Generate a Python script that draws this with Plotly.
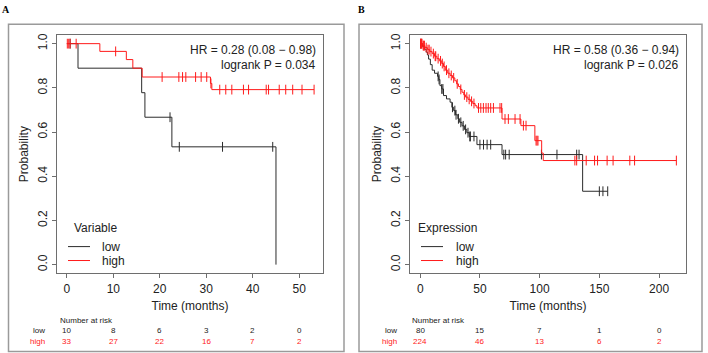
import plotly.graph_objects as go

W, H = 708, 353

# ---------------- Panel A data ----------------
a_low_t = [0, 2.4, 16.1, 16.8, 22.6, 45.0]
a_low_s = [1.0, 0.889, 0.778, 0.667, 0.533, 0.0]
a_low_cens = [0.7, 22.2, 24.2, 33.5, 44.3]

a_high_t = [0, 7.1, 12.8, 14.2, 16.2, 30.9, 31.2]
a_high_s = [1.0, 0.965, 0.928, 0.889, 0.849, 0.820, 0.792]
a_high_cens = [0.1, 0.4, 0.7, 2.0, 10.5, 20.5, 24.1, 24.9, 25.6, 27.7, 28.9, 30.1,
               31.0, 32.9, 34.2, 35.5, 38.0, 39.1, 42.9, 43.4, 45.7, 47.1, 48.6,
               50.6, 53.2]

a_risk_times = [0, 10, 20, 30, 40, 50]
a_risk_low = [10, 8, 6, 3, 2, 0]
a_risk_high = [33, 27, 22, 16, 7, 2]

# ---------------- Panel B data ----------------
b_low_t = [0, 2, 3.5, 5, 6, 7, 8.5, 10, 12, 14.5, 15.5, 16.5, 18, 19.5, 22, 25,
           26.5, 28, 29.5, 31.5, 33, 35, 37, 39, 41, 47.5, 68.5, 136]
b_low_s = [1.0, 0.987, 0.975, 0.962, 0.949, 0.930, 0.905, 0.880, 0.866, 0.852,
           0.838, 0.810, 0.795, 0.765, 0.750, 0.735, 0.712, 0.697, 0.678, 0.660,
           0.644, 0.628, 0.612, 0.597, 0.580, 0.543, 0.498, 0.332]
b_low_cens = [0.5, 15, 15.8, 18, 19, 27, 29, 30, 32, 34, 36, 38, 40, 41.5, 42,
              45, 50, 53, 56, 59, 70, 71.5, 74.5, 101.5, 114.5, 131, 133, 150,
              153, 157]

b_high_t = [0, 2, 4, 6, 8, 10, 12, 14, 16, 18, 19.5, 21, 23, 25, 27, 29, 30.5,
            32, 33.5, 35, 36.5, 38, 40, 42, 44, 46, 47.5, 68.5, 84.3, 96, 101.7,
            103]
b_high_s = [1.0, 0.991, 0.982, 0.973, 0.964, 0.955, 0.943, 0.932, 0.922, 0.910,
            0.897, 0.880, 0.866, 0.856, 0.845, 0.832, 0.818, 0.806, 0.793, 0.780,
            0.768, 0.758, 0.748, 0.739, 0.729, 0.719, 0.709, 0.659, 0.629, 0.561,
            0.505, 0.471]
b_high_cens = [0.3, 0.6, 1, 1.5, 2.5, 3, 3.5, 5, 6.5, 7.5, 9, 11, 12.5, 13, 15,
               17, 18.5, 20, 22, 24, 26, 28, 31, 34, 37, 39, 41, 43, 45, 48.8,
               50.7, 52.9, 55.1, 57.0, 59.0, 61.3, 66.8, 68.2, 71, 73.8, 79.4,
               83.6, 86.4, 88.6, 97, 97.8, 98.6, 129.5, 131, 139, 146, 148.5,
               156.5, 161.5, 175.5, 179.5, 214.5]

b_risk_times = [0, 50, 100, 150, 200]
b_risk_low = [80, 15, 7, 1, 0]
b_risk_high = [224, 46, 13, 6, 2]

y_ticks = [0.0, 0.2, 0.4, 0.6, 0.8, 1.0]

LOW_COL = "#2b2b2b"
HIGH_COL = "#ff1a1a"
FONT = "Liberation Sans, Arial, Helvetica, sans-serif"


def px(x):
    return x / W


def py(y):
    return 1 - y / H


def surv_at(times, surv, t):
    s = surv[0]
    for ti, si in zip(times, surv):
        if ti <= t:
            s = si
    return s


def step_xy(times, surv, cens):
    xs = list(times)
    ys = list(surv)
    if cens and max(cens) > xs[-1]:
        xs.append(max(cens))
        ys.append(ys[-1])
    return xs, ys


fig = go.Figure()

panels = [
    dict(xa="x", ya="y", low=(a_low_t, a_low_s, a_low_cens),
         high=(a_high_t, a_high_s, a_high_cens)),
    dict(xa="x2", ya="y2", low=(b_low_t, b_low_s, b_low_cens),
         high=(b_high_t, b_high_s, b_high_cens)),
]

for p in panels:
    for key, col, name in [("low", LOW_COL, "low"), ("high", HIGH_COL, "high")]:
        t, s, c = p[key]
        xs, ys = step_xy(t, s, c)
        fig.add_trace(go.Scatter(
            x=xs, y=ys, mode="lines", line=dict(color=col, width=1, shape="hv"),
            xaxis=p["xa"], yaxis=p["ya"], name=name, showlegend=False,
            hoverinfo="skip"))
        fig.add_trace(go.Scatter(
            x=c, y=[surv_at(t, s, ci) for ci in c], mode="markers",
            marker=dict(symbol="line-ns", size=7, color=col,
                        line=dict(color=col, width=1)),
            xaxis=p["xa"], yaxis=p["ya"], name=name + " censored",
            showlegend=False, hoverinfo="skip"))

axis_common = dict(showline=True, mirror=True, linecolor="#6e6e6e", linewidth=1,
                   ticks="outside", ticklen=4, tickcolor="#6e6e6e",
                   showgrid=False, zeroline=False,
                   tickfont=dict(family=FONT, size=12, color="#222"))

fig.update_layout(
    width=W, height=H, margin=dict(l=0, r=0, t=0, b=0),
    paper_bgcolor="white", plot_bgcolor="white",
    font=dict(family=FONT, size=12, color="#222"),
    showlegend=False,
    xaxis=dict(domain=[px(57), px(323)], range=[-2.12, 55.12],
               tickvals=a_risk_times, anchor="y",
               title=dict(text="Time (months)", font=dict(size=12), standoff=6),
               **axis_common),
    yaxis=dict(domain=[py(273), py(33)], range=[-0.04, 1.04],
               tickvals=y_ticks, tickformat=".1f", tickangle=-90, anchor="x",
               title=dict(text="Probability", font=dict(size=12), standoff=4),
               **axis_common),
    xaxis2=dict(domain=[px(410), px(686)], range=[-8.56, 222.56],
                tickvals=b_risk_times, anchor="y2",
                title=dict(text="Time (months)", font=dict(size=12), standoff=6),
                **axis_common),
    yaxis2=dict(domain=[py(273), py(33)], range=[-0.04, 1.04],
                tickvals=y_ticks, tickformat=".1f", tickangle=-90, anchor="x2",
                title=dict(text="Probability", font=dict(size=12), standoff=4),
                **axis_common),
)

shapes = []
annotations = []

# outer panel frames
for x0, x1 in [(8.5, 344), (359, 702)]:
    shapes.append(dict(type="rect", xref="paper", yref="paper",
                       x0=px(x0), x1=px(x1), y0=py(351.5), y1=py(22.5),
                       line=dict(color="#9a9a9a", width=1.5)))

# panel letters
for lx, txt in [(5.5, "A"), (361, "B")]:
    annotations.append(dict(text="<b>%s</b>" % txt, xref="paper", yref="paper",
                            x=px(lx), y=py(8), xanchor="center", yanchor="middle",
                            showarrow=False,
                            font=dict(family="Liberation Serif, Times New Roman, serif",
                                      size=10, color="#000")))

# HR / logrank text
for rx, hr, pv in [(318, "HR = 0.28 (0.08 \u2212 0.98)", "logrank P = 0.034"),
                   (681, "HR = 0.58 (0.36 \u2212 0.94)", "logrank P = 0.026")]:
    annotations.append(dict(text=hr, xref="paper", yref="paper", x=px(rx), y=py(48),
                            xanchor="right", yanchor="middle", showarrow=False,
                            font=dict(size=12)))
    annotations.append(dict(text=pv, xref="paper", yref="paper", x=px(rx), y=py(63),
                            xanchor="right", yanchor="middle", showarrow=False,
                            font=dict(size=12)))

# legends (drawn)
for title, tx, lx0, lx1, txx in [("Variable", 72, 68, 90, 100),
                                 ("Expression", 416, 421, 443, 454)]:
    annotations.append(dict(text=title, xref="paper", yref="paper", x=px(tx), y=py(227),
                            xanchor="left", yanchor="middle", showarrow=False,
                            font=dict(size=12)))
    for yy, col, lab in [(246, LOW_COL, "low"), (260, HIGH_COL, "high")]:
        shapes.append(dict(type="line", xref="paper", yref="paper",
                           x0=px(lx0), x1=px(lx1), y0=py(yy), y1=py(yy),
                           line=dict(color=col, width=1)))
        annotations.append(dict(text=lab, xref="paper", yref="paper", x=px(txx),
                                y=py(yy), xanchor="left", yanchor="middle",
                                showarrow=False, font=dict(size=12)))

# number at risk tables
for xa, nx, lbx, times, lows, highs in [("x", 58, 47, a_risk_times, a_risk_low, a_risk_high),
                                         ("x2", 410, 399, b_risk_times, b_risk_low, b_risk_high)]:
    annotations.append(dict(text="Number at risk", xref="paper", yref="paper",
                            x=px(nx), y=py(320), xanchor="left", yanchor="middle",
                            showarrow=False, font=dict(size=8, color="#222")))
    for yy, col, lab, vals in [(330, "#222", "low", lows), (341, HIGH_COL, "high", highs)]:
        annotations.append(dict(text=lab, xref="paper", yref="paper", x=px(lbx),
                                y=py(yy), xanchor="right", yanchor="middle",
                                showarrow=False, font=dict(size=8, color=col)))
        for t, v in zip(times, vals):
            annotations.append(dict(text=str(v), xref=xa, yref="paper", x=t,
                                    y=py(yy), xanchor="center", yanchor="middle",
                                    showarrow=False, font=dict(size=8, color=col)))

fig.update_layout(shapes=shapes, annotations=annotations)

fig.write_html("out.html",
               config={"displayModeBar": False},
               post_script="document.body.style.margin='0';"
                           "document.body.style.overflow='hidden';")
